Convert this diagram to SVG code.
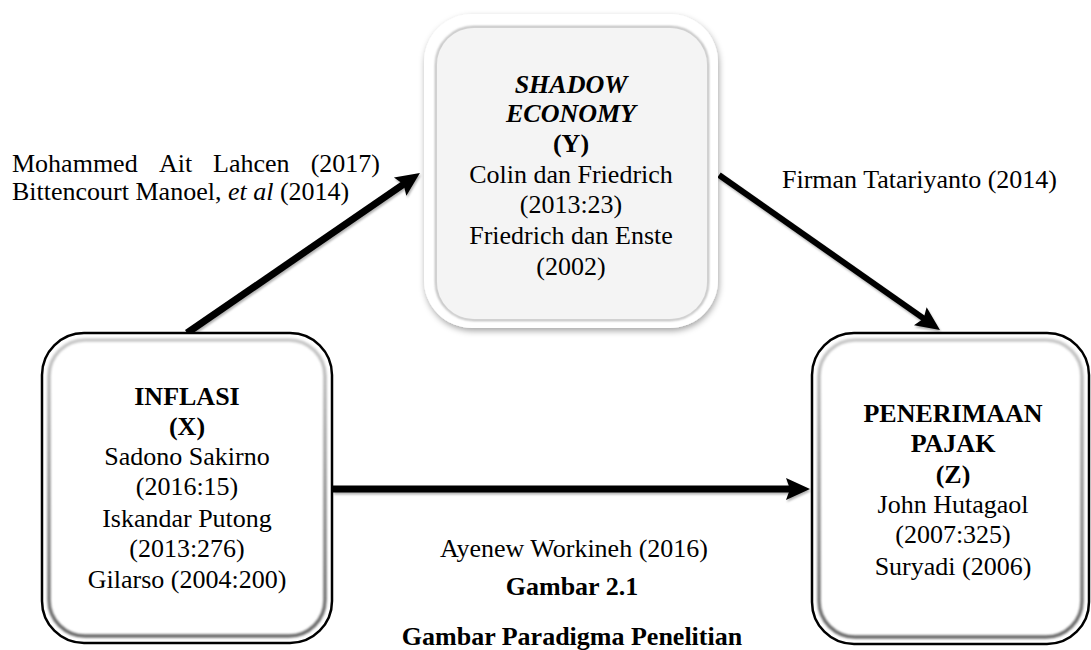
<svg xmlns="http://www.w3.org/2000/svg" width="1091" height="650" viewBox="0 0 1091 650">
<style>
text{font-family:"Liberation Serif","Times New Roman",serif;font-size:26px;fill:#000}
.c{text-anchor:middle}
.b{font-weight:bold}
.bi{font-weight:bold;font-style:italic}
.i{font-style:italic}
.outer{fill:#fff;stroke:#000;stroke-width:2.5}
.inner{fill:none;stroke:url(#bevel);stroke-width:3.5;filter:url(#soft)}
.conn{stroke:#000;fill:none}
</style>
<defs>
<linearGradient id="bevel" x1="0" y1="0" x2="0" y2="1">
<stop offset="0" stop-color="#c8c8c8"/>
<stop offset="1" stop-color="#666"/>
</linearGradient>
<filter id="soft" x="-5%" y="-5%" width="110%" height="110%"><feGaussianBlur stdDeviation="0.8"/></filter>
<filter id="shadow" x="-10%" y="-10%" width="120%" height="120%"><feDropShadow dx="1" dy="3" stdDeviation="3" flood-color="#000" flood-opacity="0.35"/></filter>
<filter id="lshadow" x="-10%" y="-10%" width="120%" height="120%"><feDropShadow dx="1" dy="2" stdDeviation="1" flood-color="#000" flood-opacity="0.3"/></filter>
<marker id="arrow" markerUnits="userSpaceOnUse" markerWidth="26" markerHeight="24" refX="10" refY="11" orient="auto" overflow="visible">
<path d="M0,0 L24,11 L0,22 L4,11 z" fill="#000"/>
</marker>
</defs>

<g id="connectors" filter="url(#lshadow)">
<line class="conn" x1="187" y1="333" x2="408.4" y2="180.9" stroke-width="7" marker-end="url(#arrow)"/>
<line class="conn" x1="719" y1="175" x2="928.5" y2="321.9" stroke-width="6" marker-end="url(#arrow)"/>
<line class="conn" x1="333" y1="489" x2="796" y2="489" stroke-width="7" marker-end="url(#arrow)"/>
</g>

<g id="node-y">
<rect x="424" y="14" width="294" height="314" rx="48" fill="#fff" filter="url(#shadow)"/>
<rect x="436" y="27" width="272" height="293" rx="38" fill="#f4f4f4" stroke="#b0b0b0" stroke-width="2" filter="url(#soft)"/>
<rect x="437" y="28" width="270" height="291" rx="37" fill="#f4f4f4"/>
<text class="c bi" x="571" y="93">SHADOW</text>
<text class="c bi" x="571" y="122">ECONOMY</text>
<text class="c b" x="571" y="152">(Y)</text>
<text class="c" x="571" y="183">Colin dan Friedrich</text>
<text class="c" x="571" y="213">(2013:23)</text>
<text class="c" x="571" y="244">Friedrich dan Enste</text>
<text class="c" x="571" y="275">(2002)</text>
</g>

<g id="node-x">
<rect class="outer" x="42" y="333" width="290" height="310" rx="42"/>
<rect class="inner" x="49" y="340" width="276" height="296" rx="36"/>
<text class="c b" x="187" y="405">INFLASI</text>
<text class="c b" x="187" y="435">(X)</text>
<text class="c" x="187" y="465">Sadono Sakirno</text>
<text class="c" x="187" y="495">(2016:15)</text>
<text class="c" x="187" y="527">Iskandar Putong</text>
<text class="c" x="187" y="557">(2013:276)</text>
<text class="c" x="187" y="588">Gilarso (2004:200)</text>
</g>

<g id="node-z">
<rect class="outer" x="812" y="333" width="277" height="311" rx="42"/>
<rect class="inner" x="819" y="340" width="263" height="297" rx="36"/>
<text class="c b" x="953" y="422">PENERIMAAN</text>
<text class="c b" x="953" y="452">PAJAK</text>
<text class="c b" x="953" y="483">(Z)</text>
<text class="c" x="953" y="513">John Hutagaol</text>
<text class="c" x="953" y="543">(2007:325)</text>
<text class="c" x="953" y="575">Suryadi (2006)</text>
</g>

<g id="labels">
<text y="172"><tspan x="12">Mohammed</tspan><tspan x="159">Ait</tspan><tspan x="213">Lahcen</tspan><tspan x="380" text-anchor="end">(2017)</tspan></text>
<text x="12" y="200">Bittencourt Manoel, <tspan class="i">et al</tspan> (2014)</text>
<text x="782" y="188">Firman Tatariyanto (2014)</text>
<text class="c" x="574" y="557">Ayenew Workineh (2016)</text>
<text class="c b" x="572" y="595">Gambar 2.1</text>
<text class="c b" x="572" y="645">Gambar Paradigma Penelitian</text>
</g>
</svg>
